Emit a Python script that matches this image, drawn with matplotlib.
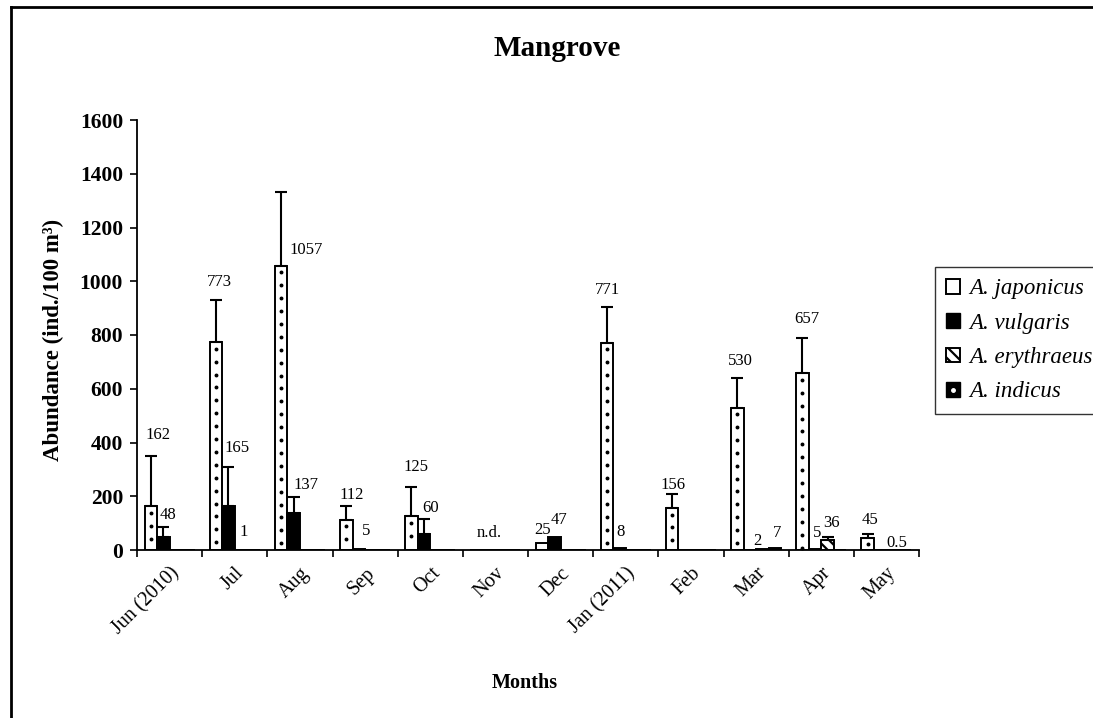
import numpy as np
import matplotlib
matplotlib.use("Agg")
import matplotlib.pyplot as plt
from matplotlib.patches import Patch
from matplotlib.lines import Line2D
from matplotlib.legend_handler import HandlerTuple

plt.rcParams["font.family"] = ["Liberation Serif", "DejaVu Serif"]
plt.rcParams["hatch.linewidth"] = 1.6

# ======= data =======
months = ["Jun (2010)", "Jul", "Aug", "Sep", "Oct", "Nov", "Dec",
          "Jan (2011)", "Feb", "Mar", "Apr", "May"]
species = ["A. japonicus", "A. vulgaris", "A. erythraeus", "A. indicus"]

# Nov = not determined
japonicus = [162, 773, 1057, 112, 125, np.nan, 25, 771, 156, 530, 657, 45]
vulgaris = [48, 165, 137, 5, 60, np.nan, 47, 8, 0, 0, 5, 0]
erythraeus = [0, 1, 0, 0, 0, np.nan, 0, 0, 0, 2, 36, 0]
indicus = [0, 0, 0, 0, 0, np.nan, 0, 0, 0, 7, 0, 0.5]

# upper error bars only
japonicus_err = [188, 157, 275, 52, 109, 0, 0, 133, 52, 110, 132, 15]
vulgaris_err = [38, 144, 60, 0, 55, 0, 0, 0, 0, 0, 0, 0]
erythraeus_err = [0, 0, 0, 0, 0, 0, 0, 0, 0, 0, 12, 0]
indicus_err = [0, 0, 0, 0, 0, 0, 0, 0, 0, 0, 0, 0]

nd_month = "Nov"

# ======= label nudges (pixels, from top of error bar) =======
label_offsets = {
    (0, 0): (7, 21), (0, 1): (3, 18), (0, 2): (25, -58), (0, 3): (5, 11),
    (0, 4): (5, 20), (0, 6): (1, 13), (0, 7): (0, 17), (0, 8): (1, 9),
    (0, 9): (3, 17), (0, 10): (4, 19), (0, 11): (2, 14),
    (1, 0): (5, 12), (1, 1): (9, 19), (1, 2): (12, 12), (1, 3): (7, 18),
    (1, 4): (7, 11), (1, 6): (5, 17), (1, 7): (1, 16), (1, 10): (2, 16),
    (2, 1): (3, 18), (2, 9): (-5, 8), (2, 10): (4, 14),
    (3, 9): (2, 15), (3, 11): (-8, 7),
}

series = [japonicus, vulgaris, erythraeus, indicus]
errors = [japonicus_err, vulgaris_err, erythraeus_err, indicus_err]

fig = plt.figure(figsize=(10.93, 7.18), dpi=100)
ax = fig.add_axes([137 / 1093, 1 - 550 / 718, (919 - 137) / 1093, (550 - 120) / 718])

x = np.arange(len(months))
w = 0.192
dot_step = 48  # spacing of the dot pattern, in data units

for j, (vals, errs) in enumerate(zip(series, errors)):
    vals = np.nan_to_num(np.array(vals, dtype=float))
    pos = x + (j - 1.5) * w
    if j == 0:
        ax.bar(pos, vals, w, color="white", edgecolor="black", linewidth=1.4, zorder=2)
        # sparse dot fill, one column per bar
        for p, v in zip(pos, vals):
            ys = np.arange(v - dot_step * 0.5, 8, -dot_step)
            ax.plot(np.full(len(ys), p), ys, "o", ms=1.8, color="black", zorder=3)
    elif j == 2:
        ax.bar(pos, vals, w, color="white", edgecolor="black", hatch="\\\\\\", linewidth=1.4, zorder=2)
    else:
        ax.bar(pos, vals, w, color="black", edgecolor="black", linewidth=1.4, zorder=2)
    errs = np.array(errs, dtype=float)
    m = errs > 0
    ax.errorbar(pos[m], vals[m], yerr=[np.zeros(m.sum()), errs[m]], fmt="none",
                ecolor="black", elinewidth=1.5, capsize=4.5, capthick=1.5, zorder=4)
    for i, v in enumerate(vals):
        if (j, i) not in label_offsets:
            continue
        dx, dy = label_offsets[(j, i)]
        ax.annotate(f"{v:g}", xy=(pos[i], v + errs[i]), xytext=(dx, dy),
                    textcoords="offset pixels", ha="center", va="center", fontsize=12)

ax.annotate("n.d.", xy=(months.index(nd_month), 0), xytext=(-6, 17),
            textcoords="offset pixels", ha="center", va="center", fontsize=12)

ax.set_xlim(-0.5, len(months) - 0.5)
ax.set_ylim(0, 1600)
ax.set_yticks(np.arange(0, 1601, 200))
ax.set_xticks(x)
ax.set_xticklabels(months, rotation=45, ha="right", va="top", rotation_mode="anchor", fontsize=14.5)
ax.tick_params(axis="x", length=0, pad=10)
ax.set_xticks(np.arange(-0.5, len(months), 1), minor=True)
ax.tick_params(axis="x", which="minor", length=5, width=1.2, direction="out")
ax.tick_params(axis="y", length=5, width=1.2, direction="out", pad=5, labelsize=15.5)
for lbl in ax.get_yticklabels():
    lbl.set_fontweight("bold")
for s in ["top", "right"]:
    ax.spines[s].set_visible(False)
for s in ["left", "bottom"]:
    ax.spines[s].set_linewidth(1.3)

fig.text(557 / 1093, 1 - 48 / 718, "Mangrove", ha="center", va="center", fontsize=21, fontweight="bold")
fig.text(525 / 1093, 1 - 683 / 718, "Months", ha="center", va="center", fontsize=14.5, fontweight="bold")
fig.text(53 / 1093, 1 - 340 / 718, "Abundance (ind./100 m³)", ha="center", va="center",
         rotation=90, fontsize=16.5, fontweight="bold")

handles = [Patch(facecolor="white", edgecolor="black", linewidth=1.4),
           Patch(facecolor="black", edgecolor="black"),
           Patch(facecolor="white", edgecolor="black", hatch="\\\\\\", linewidth=1.4),
           (Patch(facecolor="black", edgecolor="black"),
            Line2D([], [], marker="o", ms=2.5, color="white", linestyle="none"))]
leg = fig.legend(handles, species, loc="upper left", bbox_to_anchor=(935 / 1093, 1 - 267 / 718),
                 prop={"style": "italic", "size": 16.5}, frameon=True, fancybox=False,
                 edgecolor="black", handlelength=0.6, handleheight=0.6, handletextpad=0.4,
                 labelspacing=0.58, borderpad=0.5, borderaxespad=0,
                 handler_map={tuple: HandlerTuple(ndivide=1)})
leg.get_frame().set_linewidth(1.0)

# outer frame (left and top edges visible)
fig.add_artist(Line2D([11 / 1093, 11 / 1093], [0, 1 - 7 / 718], color="black", linewidth=2, transform=fig.transFigure))
fig.add_artist(Line2D([11 / 1093, 1], [1 - 7 / 718, 1 - 7 / 718], color="black", linewidth=2, transform=fig.transFigure))

fig.savefig("out.png", dpi=100)
